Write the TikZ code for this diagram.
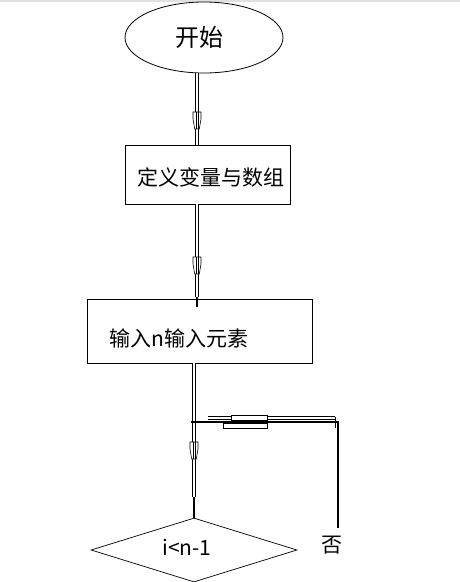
\documentclass[tikz,border=0pt]{standalone}
\usepackage{fontspec}
\newfontfamily\cjk{Noto Sans CJK SC}
\usetikzlibrary{shapes.geometric}
\begin{document}
\begin{tikzpicture}[x=1pt,y=-1pt,
  outline/.style={draw,line width=0.8pt,inner sep=0pt},
  dbl/.style={draw,line width=0.7pt,double,double distance=2.2pt},
  solidend/.style={draw,line width=2pt},
  branch/.style={draw,line width=1.6pt},
  lbl/.style={font=\cjk\fontsize{21}{25}\selectfont,inner sep=0pt},
  vbulge/.pic={\draw[line width=0.6pt,fill=white] (-4,0) -- (-4,7) -- (-2.3,17) -- (2.3,17) -- (4,7) -- (4,0) -- cycle;
               \draw[line width=0.4pt] (-1.2,0) -- (-1.2,17) (1.2,0) -- (1.2,17);}
]
\useasboundingbox (0,0) rectangle (460,582);
\fill[white] (0,0) rectangle (460,582);
\fill[black!12] (0,0) rectangle (460,2);

% nodes
\node[outline,ellipse,minimum width=158pt,minimum height=71pt] (start) at (204,37.5) {};
\node[lbl,font=\cjk\fontsize{24}{28}\selectfont] (tstart) at (199.5,37) {开始};
\node[outline,rectangle,minimum width=165pt,minimum height=59pt] (box1) at (207.5,174.5) {};
\node[lbl] (t1) at (211,177.5) {定义变量与数组};
\node[outline,rectangle,minimum width=225pt,minimum height=64pt] (box2) at (199.5,331) {};
\node[lbl] (t2) at (179,338) {输入n输入元素};
\node[outline,diamond,minimum width=206pt,minimum height=64pt,line width=0.7pt] (dia) at (194,550) {};
\node[lbl] (t3) at (187,547) {i<n-1};
\node[lbl] (no) at (332,545) {否};

\coordinate (c2s) at (197,297);
\coordinate (c3s) at (194,497);
\coordinate (br) at (191,422);
\coordinate (noend) at (338,528);

% connector 1
\draw[dbl] ([xshift=-7pt]start.south) -- ([xshift=-10.5pt]box1.north);
\pic at (197,112) {vbulge};
% connector 2
\draw[dbl] ([xshift=-10.5pt]box1.south) -- (c2s);
\draw[solidend] (c2s) -- ([xshift=-2.5pt,yshift=-8pt]box2.north);
\pic at (197,257) {vbulge};
% connector 3
\draw[dbl] ([xshift=-5.5pt]box2.south) -- (c3s);
\draw[solidend] (c3s) -- (dia.north);
\pic at (194,442) {vbulge};

% branch to "no"
\draw[branch] (br) -| (noend);
\draw[dbl] (208,418) -- (335,418);
\draw[line width=0.6pt,fill=white] (231,415.3) rectangle (267,420.7);
\draw[dbl] (206,425.5) -- (335,425.5);
\draw[line width=0.6pt,fill=white] (223,423) rectangle (267,428);
\draw[line width=0.6pt] (335,416.5) -- (335,427.5);
\end{tikzpicture}
\end{document}
